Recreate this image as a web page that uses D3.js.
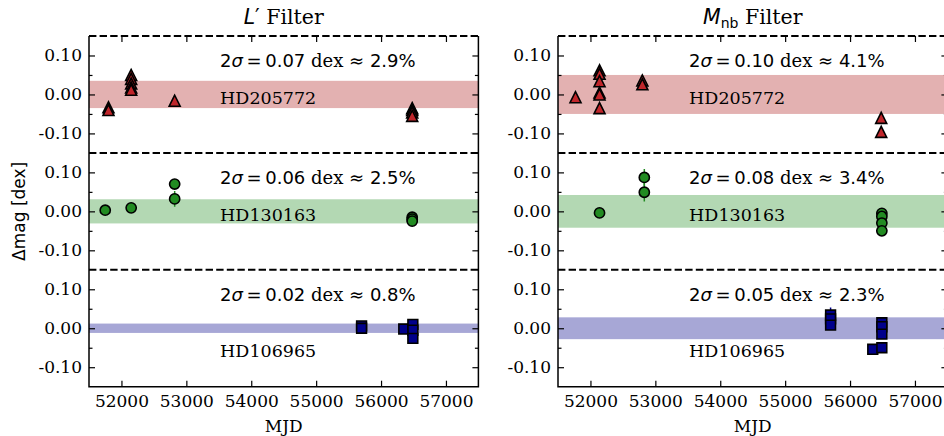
<!DOCTYPE html>
<html>
<head>
<meta charset="utf-8">
<script src="https://cdn.jsdelivr.net/npm/d3@7"></script>
<style>
body { margin: 0; background: #fff; }
svg { display: block; }
</style>
</head>
<body>
<svg width="944" height="436"></svg>
<script>
// ---- data ------------------------------------------------------------
// each point: [MJD, delta mag (dex), error]
var stars = ['HD205772', 'HD130163', 'HD106965'];

var lpHD205772 = [[51800, -0.033, 0.005], [51800, -0.040, 0.005],
    [52150, 0.050, 0.005], [52150, 0.040, 0.005], [52150, 0.028, 0.005],
    [52150, 0.018, 0.005], [52150, 0.012, 0.005], [52820, -0.016, 0.005],
    [56480, -0.035, 0.005], [56480, -0.040, 0.005], [56480, -0.046, 0.005],
    [56480, -0.055, 0.005]];
var lpHD130163 = [[51750, 0.003, 0.005], [52150, 0.009, 0.005],
    [52820, 0.070, 0.012], [52820, 0.032, 0.020],
    [56480, -0.015, 0.005], [56480, -0.020, 0.005], [56480, -0.025, 0.005]];
var lpHD106965 = [[55700, 0.006, 0.005], [55700, 0.000, 0.005],
    [56350, -0.002, 0.005], [56490, 0.010, 0.005], [56490, -0.005, 0.005],
    [56490, -0.026, 0.005]];

var mnbHD205772 = [[51770, -0.007, 0.005],
    [52140, 0.062, 0.005], [52140, 0.053, 0.005], [52140, 0.034, 0.005],
    [52140, 0.005, 0.005], [52140, 0.000, 0.005], [52140, -0.035, 0.005],
    [52800, 0.036, 0.005], [52800, 0.026, 0.005],
    [56480, -0.060, 0.005], [56480, -0.096, 0.005]];
var mnbHD130163 = [[52140, -0.004, 0.005],
    [52830, 0.087, 0.022], [52830, 0.049, 0.024],
    [56490, -0.005, 0.005], [56490, -0.013, 0.005], [56490, -0.030, 0.005],
    [56490, -0.050, 0.005]];
var mnbHD106965 = [[55700, 0.034, 0.019], [55700, 0.024, 0.005], [55700, 0.008, 0.005],
    [56350, -0.054, 0.005],
    [56490, 0.014, 0.005], [56490, 0.004, 0.005], [56490, -0.015, 0.005],
    [56490, -0.050, 0.005]];

// 2 sigma scatter, percent, and half width of the shaded band
var lpSigma = ['0.07', '0.06', '0.02'];
var lpPct = ['2.9', '2.5', '0.8'];
var lpBand = [0.035, 0.031, 0.012];
var mnbSigma = ['0.10', '0.08', '0.05'];
var mnbPct = ['4.1', '3.4', '2.3'];
var mnbBand = [0.050, 0.042, 0.028];

var xTicks = [52000, 53000, 54000, 55000, 56000, 57000];
var yTicks = [-0.10, 0.00, 0.10];
var yMinor = [-0.05, 0.05];

// ---- look ------------------------------------------------------------
var markerFill = ['#c0262b', '#228b22', '#00008b'];
var bandFill = ['#e3b1b1', '#b3d8b3', '#a7a7d6'];
var markerType = ['triangle', 'circle', 'square'];
var nameY = [-0.025, -0.025, -0.075];

var SANS = 'DejaVu Sans', SERIF = 'DejaVu Serif';
var top0 = 36, rowH = 116.9, panelW = 389.4;

var svg = d3.select('svg');
svg.append('rect').attr('width', 944).attr('height', 436).attr('fill', '#fff');

function markerPath(type, cx, cy) {
    var p = d3.path();
    if (type === 'triangle') {
        var r = 5.5;
        p.moveTo(cx, cy - r); p.lineTo(cx - r, cy + r); p.lineTo(cx + r, cy + r); p.closePath();
    } else if (type === 'square') {
        var h = 4.9;
        p.rect(cx - h, cy - h, 2 * h, 2 * h);
    } else {
        p.moveTo(cx + 5.1, cy); p.arc(cx, cy, 5.1, 0, 2 * Math.PI);
    }
    return p.toString();
}

function drawPanel(x0, series, sigma, pct, band, titleFn) {
    var g = svg.append('g');
    var x = d3.scaleLinear().domain([51500, 57500]).range([x0, x0 + panelW]);
    var clipId = 'clip' + x0;
    svg.append('clipPath').attr('id', clipId)
        .append('rect').attr('x', x0).attr('y', top0)
        .attr('width', panelW).attr('height', rowH * 3);

    series.forEach(function(data, i) {
        var yTop = top0 + i * rowH;
        var y = d3.scaleLinear().domain([-0.15, 0.15]).range([yTop + rowH, yTop]);
        var row = g.append('g').attr('clip-path', 'url(#' + clipId + ')');

        row.append('rect')
            .attr('x', x0).attr('width', panelW)
            .attr('y', y(band[i])).attr('height', y(-band[i]) - y(band[i]))
            .attr('fill', bandFill[i]);

        row.selectAll('line.err').data(data).enter().append('line')
            .attr('x1', d => x(d[0])).attr('x2', d => x(d[0]))
            .attr('y1', d => y(d[1] + d[2])).attr('y2', d => y(d[1] - d[2]))
            .attr('stroke', markerFill[i]).attr('stroke-width', 1.5);

        row.selectAll('path.pt').data(data).enter().append('path')
            .attr('d', d => markerPath(markerType[i], x(d[0]), y(d[1])))
            .attr('fill', markerFill[i])
            .attr('stroke', '#000').attr('stroke-width', 1.6);

        // stats text
        var t = g.append('text')
            .attr('x', x(53520)).attr('y', y(0.07))
            .attr('font-size', 18).attr('fill', '#000');
        t.append('tspan').attr('font-family', SANS).text('2');
        t.append('tspan').attr('font-family', SANS).attr('font-style', 'italic').text('σ');
        t.append('tspan').attr('font-family', SANS).text('\u2009=\u2009' + sigma[i] + ' ');
        t.append('tspan').attr('font-family', SERIF).text('dex\u00a0');
        t.append('tspan').attr('font-family', SANS).text('≈\u00a0' + pct[i] + '%');

        g.append('text')
            .attr('x', x(53520)).attr('y', y(nameY[i]))
            .attr('font-family', SERIF).attr('font-size', 17.5)
            .text(stars[i]);

        // y axes, ticks inward
        var fmt = d => d.toFixed(2);
        var left = g.append('g').attr('transform', 'translate(' + x0 + ',0)')
            .call(d3.axisLeft(y).tickValues(yTicks).tickFormat(fmt).tickSize(-6).tickPadding(7));
        left.selectAll('text').attr('font-family', SERIF).attr('font-size', 17);
        g.append('g').attr('transform', 'translate(' + x0 + ',0)')
            .call(d3.axisLeft(y).tickValues(yMinor).tickFormat('').tickSize(-3.5));
        g.append('g').attr('transform', 'translate(' + (x0 + panelW) + ',0)')
            .call(d3.axisRight(y).tickValues(yTicks).tickFormat('').tickSize(-6));
        g.append('g').attr('transform', 'translate(' + (x0 + panelW) + ',0)')
            .call(d3.axisRight(y).tickValues(yMinor).tickFormat('').tickSize(-3.5));

        // dashed separator / top edge
        g.append('line')
            .attr('x1', x0).attr('x2', x0 + panelW)
            .attr('y1', yTop).attr('y2', yTop)
            .attr('stroke', '#000').attr('stroke-width', 2)
            .attr('stroke-dasharray', '7.4,3.2');
    });

    var yBot = top0 + 3 * rowH;
    g.append('g').attr('transform', 'translate(0,' + top0 + ')')
        .call(d3.axisTop(x).tickValues(xTicks).tickFormat('').tickSize(-6));
    var bx = g.append('g').attr('transform', 'translate(0,' + yBot + ')')
        .call(d3.axisBottom(x).tickValues(xTicks).tickFormat(d3.format('d')).tickSize(-6).tickPadding(8));
    bx.selectAll('text').attr('font-family', SERIF).attr('font-size', 17);

    g.selectAll('.domain').remove();
    g.selectAll('.tick line').attr('stroke', '#000').attr('stroke-width', 1.2);

    // solid spines
    g.append('path')
        .attr('d', 'M' + x0 + ',' + top0 + 'V' + yBot + 'H' + (x0 + panelW) + 'V' + top0)
        .attr('fill', 'none').attr('stroke', '#000').attr('stroke-width', 1.5);

    g.append('text')
        .attr('x', x0 + panelW / 2).attr('y', yBot + 45)
        .attr('text-anchor', 'middle')
        .attr('font-family', SERIF).attr('font-size', 17)
        .text('MJD');

    titleFn(g.append('text')
        .attr('x', x0 + panelW / 2).attr('y', 24)
        .attr('text-anchor', 'middle').attr('font-size', 20.5));
}

drawPanel(89, [lpHD205772, lpHD130163, lpHD106965], lpSigma, lpPct, lpBand, function(t) {
    t.append('tspan').attr('font-family', SANS).attr('font-style', 'italic').text('L');
    t.append('tspan').attr('font-family', SANS).text('′');
    t.append('tspan').attr('font-family', SERIF).text(' Filter');
});

drawPanel(558, [mnbHD205772, mnbHD130163, mnbHD106965], mnbSigma, mnbPct, mnbBand, function(t) {
    t.append('tspan').attr('font-family', SANS).attr('font-style', 'italic').text('M');
    t.append('tspan').attr('font-family', SANS).attr('font-size', 14).attr('dy', 4).text('nb');
    t.append('tspan').attr('font-family', SERIF).attr('dy', -4).text(' Filter');
});

svg.append('text')
    .attr('transform', 'translate(25,' + (top0 + 1.5 * rowH) + ') rotate(-90)')
    .attr('text-anchor', 'middle')
    .attr('font-family', SANS).attr('font-size', 17)
    .text('Δmag [dex]');
</script>
</body>
</html>
